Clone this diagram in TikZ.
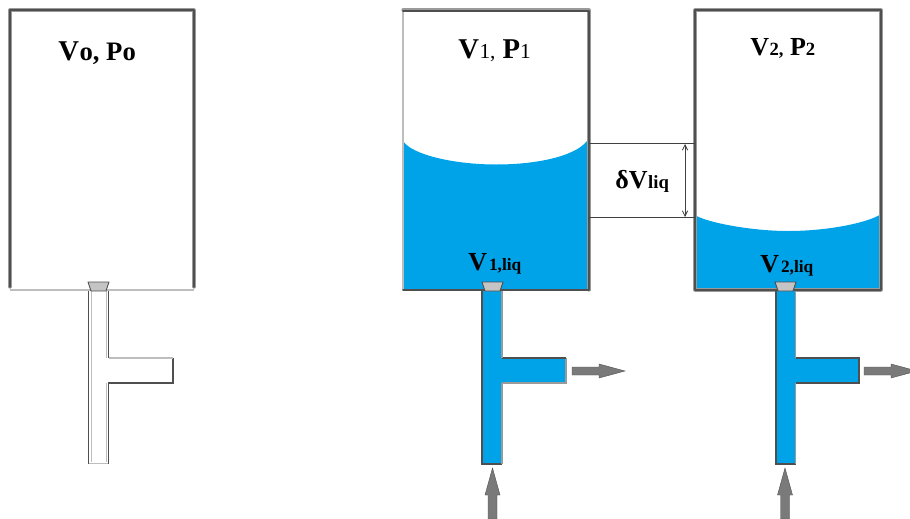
\documentclass[tikz,border=0pt]{standalone}
\usepackage{fontspec}
\usetikzlibrary{arrows.meta}
\setmainfont{Liberation Serif}
\definecolor{water}{HTML}{00A2E8}
\definecolor{wall}{HTML}{4F4F4F}
\definecolor{wallhalo}{HTML}{9A9A9A}
\definecolor{thin}{HTML}{BDBDBD}
\definecolor{valve}{HTML}{C4C4C4}
\definecolor{blockarrow}{HTML}{7A7A7A}
\tikzset{
  wallhaloline/.style={draw=wallhalo,line width=2.4pt,line cap=round,line join=round},
  wallline/.style={draw=wall,line width=1.2pt,line cap=round,line join=round},
  thinline/.style={draw=thin,line width=1.1pt},
  valveshape/.style={fill=valve,draw=wall,line width=.7pt,line join=round},
  tubeline/.style={draw=wall,line width=1.2pt,line join=miter},
  tubelight/.style={draw=wallhalo,line width=1.1pt},
  tubeinner/.style={draw=thin,line width=.6pt},
  bigv/.style={inner sep=0pt,font=\bfseries\fontsize{21.5}{22}\selectfont},
  medv/.style={inner sep=0pt,font=\bfseries\fontsize{19.5}{20}\selectfont},
  smallb/.style={inner sep=0pt,font=\bfseries\fontsize{13}{13}\selectfont},
  midb/.style={inner sep=0pt,font=\bfseries\fontsize{14}{14}\selectfont},
  oldsub/.style={inner sep=0pt,font=\bfseries\fontsize{20}{20}\selectfont},
  lightsub/.style={inner sep=0pt,font=\fontsize{16}{16}\selectfont},
  blockarr/.style={fill=blockarrow,draw=wall,line width=.3pt,line join=miter},
  dimline/.style={draw=black!75,line width=.6pt}
}
\newcommand{\valvepart}[1]{% left x
  \path[valveshape] (#1,282) -- (#1+21,282) -- (#1+18,291) -- (#1+3,291) -- cycle;
}
\newcommand{\arrowright}[1]{% start x
  \path[blockarr] (#1,367) -- (#1+27,367) -- (#1+27,364) -- (#1+53,371) -- (#1+27,378) -- (#1+27,375) -- (#1,375) -- cycle;
}
\newcommand{\arrowup}[1]{% centre x
  \path[blockarr] (#1-4.5,519) -- (#1-4.5,495) -- (#1-7.5,495) -- (#1,468) -- (#1+7.5,495) -- (#1+4.5,495) -- (#1+4.5,519) -- cycle;
}
\begin{document}
\begin{tikzpicture}[x=0.75pt,y=-0.75pt]
\useasboundingbox (0,0) rectangle (910,518);
% left tank
\draw[thinline] (10,290) -- (194,290);
\draw[wallhaloline] (10,287) -- (10,10) -- (194,10) -- (194,287);
\draw[wallline] (10,287) -- (10,10) -- (194,10) -- (194,287);
\draw[tubeline] (88.5,291) -- (88.5,464);
\draw[thinline] (88.5,463.5) -- (108.5,463.5);
\draw[tubeline] (108.5,464) -- (108.5,383) -- (173,383) -- (173,358);
\draw[thinline] (173,358) -- (108.5,358);
\draw[tubeline] (108.5,358) -- (108.5,291);
\draw[tubeinner] (91,291) -- (91,462);
\draw[tubeinner] (106.5,291) -- (106.5,358);
\draw[tubeinner] (106.5,383) -- (106.5,462);
\valvepart{88}
\node[oldsub,anchor=base west] (t0) at (58,60) {\fontsize{21.5}{22}\selectfont V\hspace{.4pt}\fontsize{20}{20}\selectfont o,\ P\hspace{.2pt}o};
% tank 1
\path[fill=water] (403,141) .. controls (412,155) and (455,164.5) .. (496,164.5) .. controls (540,164.5) and (580,155) .. (589,138) -- (589,290) -- (403,290) -- cycle;
\draw[thinline] (403,290) -- (403,10);
\draw[wallhaloline] (403,10) -- (589,10) -- (589,290);
\draw[wallline] (403,11) -- (589,11) -- (589,290) -- (403,290);
\path[fill=water] (482,291) -- (482,464) -- (502,464) -- (502,383) -- (566,383) -- (566,358) -- (502,358) -- (502,291) -- cycle;
\draw[tubeline] (502,464) -- (482,464) -- (482,291);
\draw[tubelight] (502,464) -- (502,383);
\draw[tubeline] (502,383) -- (503,383);
\draw[tubelight] (502,383) -- (566,383) -- (566,358);
\draw[tubeline] (566,358) -- (502,358);
\draw[tubelight] (502,358) -- (502,291);
\valvepart{482}
\node[bigv,anchor=base west] (t1) at (458,58.5) {V\hspace{.4pt}\fontsize{16}{16}\mdseries\selectfont 1,\fontsize{21.5}{22}\bfseries\selectfont\ P\fontsize{16}{16}\mdseries\selectfont 1};
\node[medv,anchor=base west] (l1) at (468,270) {V\hspace{1.5pt}\fontsize{13}{13}\selectfont 1,liq};
\arrowright{572}
\arrowup{492.5}
% tank 2
\path[fill=water] (695,215) .. controls (705,222) and (750,231) .. (788,231) .. controls (830,231) and (870,222) .. (881,214) -- (881,290) -- (695,290) -- cycle;
\draw[wallhaloline] (695,290) -- (881,290) -- (881,10) -- (695,10) -- cycle;
\draw[wallline] (695,290) -- (881,290) -- (881,10) -- (695,10) -- cycle;
\path[fill=water] (776,291) -- (776,464) -- (795.5,464) -- (795.5,383) -- (859,383) -- (859,358) -- (795.5,358) -- (795.5,291) -- cycle;
\draw[tubeline] (776,291) -- (776,464) -- (795.5,464);
\draw[tubelight] (795.5,464) -- (795.5,383);
\draw[tubeline] (795.5,383) -- (859,383) -- (859,358) -- (795.5,358);
\draw[tubelight] (795.5,358) -- (795.5,291);
\valvepart{775}
\node[medv,anchor=base west] (t2) at (750,55) {V\hspace{.4pt}\fontsize{14}{14}\selectfont 2,\fontsize{19.5}{20}\selectfont\ P\fontsize{14}{14}\selectfont 2};
\node[medv,anchor=base west] (l2) at (760,272) {V\hspace{1.5pt}\fontsize{13}{13}\selectfont 2,liq};
\arrowright{864}
\arrowup{785}
% level difference
\coordinate (a1) at (589,143);
\coordinate (a2) at (695,143);
\coordinate (b1) at (589,217);
\coordinate (b2) at (695,217);
\coordinate (c1) at (685,144);
\coordinate (c2) at (685,217);
\draw[dimline] (a1) -- (a2);
\draw[dimline] (b1) -- (b2);
\draw[dimline,<->,>={Straight Barb[length=4pt,width=4pt]}] (c1) -- (c2);
\node[medv,anchor=base west] (d) at (615,188) {δV\hspace{.5pt}\fontsize{14}{14}\selectfont liq};
\end{tikzpicture}
\end{document}
